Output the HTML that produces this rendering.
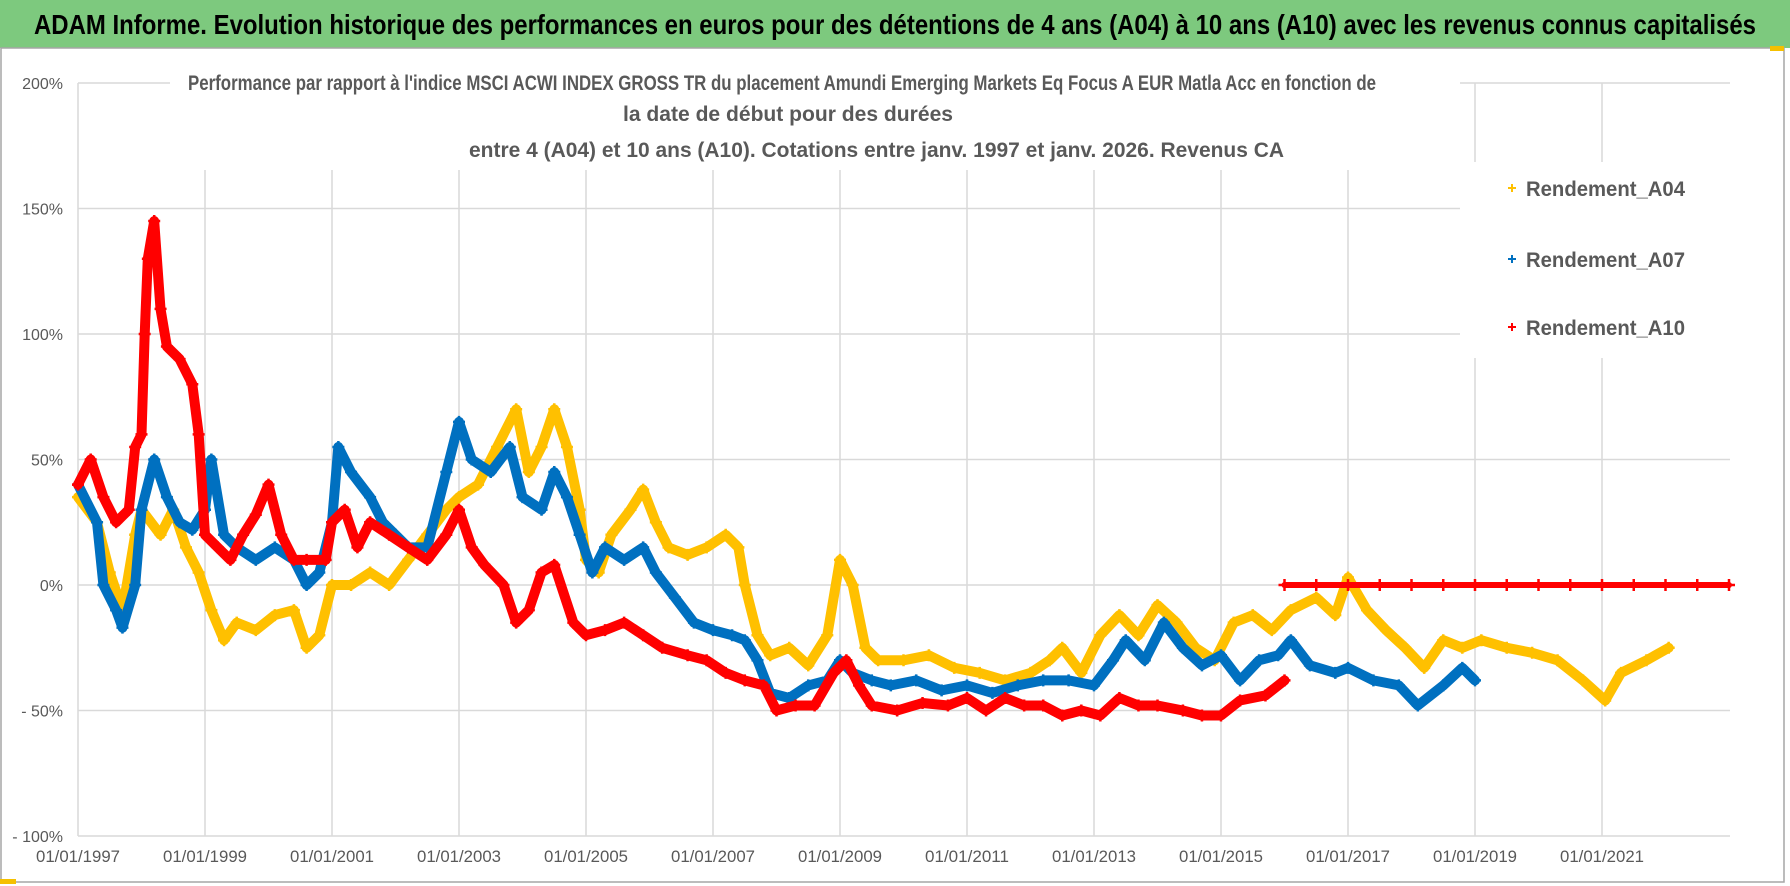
<!DOCTYPE html>
<html><head><meta charset="utf-8"><style>
html,body{margin:0;padding:0;background:#fff;width:1790px;height:886px;overflow:hidden}
svg{display:block;font-family:"Liberation Sans Narrow","Liberation Sans",sans-serif}
</style></head><body>
<svg id="chart" width="1790" height="886" viewBox="0 0 1790 886" xmlns="http://www.w3.org/2000/svg">
<rect x="0" y="0" width="1790" height="886" fill="#fff"/>
<rect x="0" y="0" width="1790" height="48" fill="#7dc97e"/>
<text x="895" y="34" text-anchor="middle" font-size="28" font-weight="bold" fill="#000" textLength="1722" lengthAdjust="spacingAndGlyphs">ADAM Informe. Evolution historique des performances en euros pour des détentions de 4 ans (A04) à 10 ans (A10) avec les revenus connus capitalisés</text>
<rect x="1" y="48" width="1783" height="834" fill="none" stroke="#a6a6a6" stroke-width="1.5"/>
<rect x="0" y="879" width="16" height="5" fill="#f5c000"/>
<rect x="1770" y="46" width="14" height="5" fill="#f5c000"/>
<g id="grid"></g>
<g id="series"></g>
<rect x="170" y="70" width="1290" height="100" fill="#fff"/>
<rect x="1460" y="162" width="270" height="196" fill="#fff"/>
<g font-size="21" font-weight="bold" fill="#595959" text-anchor="start">
<text x="188" y="90" textLength="1188" lengthAdjust="spacingAndGlyphs">Performance par rapport à l'indice MSCI ACWI INDEX GROSS TR  du placement Amundi Emerging Markets Eq Focus A EUR Matla Acc en fonction de</text>
<text x="623" y="121" textLength="330" lengthAdjust="spacingAndGlyphs">la date de début pour des durées</text>
<text x="469" y="157" textLength="815" lengthAdjust="spacingAndGlyphs">entre 4 (A04) et 10 ans (A10).  Cotations entre janv. 1997 et janv. 2026. Revenus CA</text>
</g>
<g id="axes" font-size="16" fill="#595959"></g>
<g id="legend" font-size="21" font-weight="bold" fill="#595959"></g>
</svg>
<script>
const yTicks = [200, 150, 100, 50, 0, -50, -100];
const yTickLabels = ["200%", "150%", "100%", "50%", "0%", "- 50%", "- 100%"];
const xTicks = [1997, 1999, 2001, 2003, 2005, 2007, 2009, 2011, 2013, 2015, 2017, 2019, 2021];
const xTickLabels = ["01/01/1997","01/01/1999","01/01/2001","01/01/2003","01/01/2005","01/01/2007","01/01/2009","01/01/2011","01/01/2013","01/01/2015","01/01/2017","01/01/2019","01/01/2021"];
const seriesNames = ["Rendement_A04", "Rendement_A07", "Rendement_A10"];
const a04Dates = [1997.0,1997.3,1997.5,1997.7,1997.9,1998.0,1998.3,1998.5,1998.7,1998.9,1999.1,1999.3,1999.5,1999.8,2000.1,2000.4,2000.6,2000.8,2001.0,2001.3,2001.6,2001.9,2002.2,2002.5,2002.8,2003.0,2003.3,2003.6,2003.9,2004.1,2004.3,2004.5,2004.7,2004.9,2005.0,2005.2,2005.4,2005.7,2005.9,2006.1,2006.3,2006.6,2006.9,2007.2,2007.4,2007.5,2007.7,2007.9,2008.2,2008.5,2008.8,2009.0,2009.2,2009.4,2009.6,2010.0,2010.4,2010.8,2011.2,2011.6,2012.0,2012.3,2012.5,2012.8,2013.1,2013.4,2013.7,2014.0,2014.3,2014.6,2014.9,2015.2,2015.5,2015.8,2016.1,2016.5,2016.8,2017.0,2017.3,2017.6,2017.9,2018.2,2018.5,2018.8,2019.1,2019.5,2019.9,2020.3,2020.7,2021.05,2021.3,2021.7,2022.05];
const a04Values = [35,25,5,-10,20,30,20,30,15,5,-10,-22,-15,-18,-12,-10,-25,-20,0,0,5,0,10,20,30,35,40,55,70,45,55,70,55,30,10,5,20,30,38,25,15,12,15,20,15,0,-20,-28,-25,-32,-20,10,0,-25,-30,-30,-28,-33,-35,-38,-35,-30,-25,-35,-20,-12,-20,-8,-15,-25,-30,-15,-12,-18,-10,-5,-12,3,-10,-18,-25,-33,-22,-25,-22,-25,-27,-30,-38,-46,-35,-30,-25];
const a07Dates = [1997.0,1997.3,1997.4,1997.6,1997.7,1997.9,1998.0,1998.2,1998.4,1998.6,1998.8,1999.0,1999.1,1999.3,1999.5,1999.8,2000.1,2000.4,2000.6,2000.8,2001.0,2001.1,2001.3,2001.6,2001.8,2002.0,2002.2,2002.5,2002.8,2003.0,2003.2,2003.5,2003.8,2004.0,2004.3,2004.5,2004.7,2004.9,2005.1,2005.3,2005.6,2005.9,2006.1,2006.4,2006.7,2007.0,2007.3,2007.5,2007.7,2007.9,2008.2,2008.5,2008.8,2009.0,2009.2,2009.5,2009.8,2010.2,2010.6,2011.0,2011.4,2011.8,2012.2,2012.6,2013.0,2013.3,2013.5,2013.8,2014.1,2014.4,2014.7,2015.0,2015.3,2015.6,2015.9,2016.1,2016.4,2016.8,2017.0,2017.4,2017.8,2018.1,2018.5,2018.8,2019.0];
const a07Values = [40,25,0,-10,-17,0,30,50,35,25,22,30,50,20,15,10,15,10,0,5,25,55,45,35,25,20,15,15,45,65,50,45,55,35,30,45,35,20,5,15,10,15,5,-5,-15,-18,-20,-22,-30,-43,-45,-40,-38,-30,-35,-38,-40,-38,-42,-40,-43,-40,-38,-38,-40,-30,-22,-30,-15,-25,-32,-28,-38,-30,-28,-22,-32,-35,-33,-38,-40,-48,-40,-33,-38];
const a10Dates = [1997.0,1997.2,1997.4,1997.6,1997.8,1997.9,1998.0,1998.05,1998.1,1998.2,1998.3,1998.4,1998.6,1998.8,1998.9,1999.0,1999.2,1999.4,1999.6,1999.8,2000.0,2000.2,2000.4,2000.6,2000.9,2001.0,2001.2,2001.4,2001.6,2001.9,2002.2,2002.5,2002.8,2003.0,2003.2,2003.4,2003.7,2003.9,2004.1,2004.3,2004.5,2004.8,2005.0,2005.3,2005.6,2005.9,2006.2,2006.6,2006.9,2007.2,2007.5,2007.8,2008.0,2008.3,2008.6,2008.9,2009.1,2009.3,2009.5,2009.9,2010.3,2010.7,2011.0,2011.3,2011.6,2011.9,2012.2,2012.5,2012.8,2013.1,2013.4,2013.7,2014.0,2014.4,2014.7,2015.0,2015.3,2015.7,2016.0];
const a10Values = [40,50,35,25,30,55,60,100,130,145,110,95,90,80,60,20,15,10,20,28,40,20,10,10,10,25,30,15,25,20,15,10,20,30,15,8,0,-15,-10,5,8,-15,-20,-18,-15,-20,-25,-28,-30,-35,-38,-40,-50,-48,-48,-35,-30,-40,-48,-50,-47,-48,-45,-50,-45,-48,-48,-52,-50,-52,-45,-48,-48,-50,-52,-52,-46,-44,-38];
const a10ZeroDates = [2016.0,2016.5,2017.0,2017.5,2018.0,2018.5,2019.0,2019.5,2020.0,2020.5,2021.0,2021.5,2022.0,2022.5,2023.0];
const a10ZeroValues = [0,0,0,0,0,0,0,0,0,0,0,0,0,0,0];

const NS = "http://www.w3.org/2000/svg";
const X0 = 78, PX_PER_YEAR = 63.5, Y0 = 585, PX_PER_PCT = 2.51, XMAX = 1730;
function xScale(d){ return X0 + (d - 1997) * PX_PER_YEAR; }
function yScale(v){ return Y0 - v * PX_PER_PCT; }
function mk(tag, attrs, parent){ const e = document.createElementNS(NS, tag); for (const k in attrs) e.setAttribute(k, attrs[k]); parent.appendChild(e); return e; }

const grid = document.getElementById('grid');
yTicks.forEach((t) => {
  const l = mk('line', {x1: X0, x2: XMAX, y1: yScale(t), y2: yScale(t), stroke: '#d9d9d9', 'stroke-width': 1.5}, grid);
  
  
});
xTicks.forEach((t) => {
  const l = mk('line', {x1: xScale(t), x2: xScale(t), y1: yScale(200), y2: yScale(-100), stroke: '#d9d9d9', 'stroke-width': 1.5}, grid);
  
  
});

const axes = document.getElementById('axes');
yTicks.forEach((t, i) => {
  const tx = mk('text', {x: 63, y: yScale(t) + 6, 'text-anchor': 'end'}, axes);
  tx.textContent = yTickLabels[i];
  
  
});
xTicks.forEach((t, i) => {
  const tx = mk('text', {x: xScale(t), y: 862, 'text-anchor': 'middle', 'font-size': 17, textLength: 84, lengthAdjust: 'spacingAndGlyphs'}, axes);
  tx.textContent = xTickLabels[i];
  
  
});

const seriesLayer = document.getElementById('series');
function drawSeries(dates, values, color, width, name){
  const g = mk('g', {}, seriesLayer);
  
  
  const pts = dates.map((d, i) => xScale(d).toFixed(1) + ',' + yScale(values[i]).toFixed(1)).join(' ');
  const pl = mk('polyline', {points: pts, fill: 'none', stroke: color, 'stroke-width': width, 'stroke-linejoin': 'round', 'stroke-linecap': 'round'}, g);
  
  
  dates.forEach((d, i) => {
    const cx = xScale(d), cy = yScale(values[i]);
    const p = mk('path', {d: `M${cx-6},${cy}h12M${cx},${cy-6}v12`, stroke: color, 'stroke-width': 2.5}, g);
    
    
  });
}
drawSeries(a04Dates, a04Values, '#ffc000', 10, 'series-a04');
drawSeries(a07Dates, a07Values, '#0070c0', 10, 'series-a07');
drawSeries(a10Dates, a10Values, '#ff0000', 10, 'series-a10');
drawSeries(a10ZeroDates, a10ZeroValues, '#ff0000', 6, 'series-a10-flat');

const legend = document.getElementById('legend');
const legendColors = ['#ffc000', '#0070c0', '#ff0000'];
const legendY = [188, 259, 327];
seriesNames.forEach((n, i) => {
  const g = mk('g', {}, legend);
  
  
  const m = mk('path', {d: `M${1508},${legendY[i]}h8M${1512},${legendY[i]-4}v8`, stroke: legendColors[i], 'stroke-width': 2}, g);
  
  
  const t = mk('text', {x: 1526, y: legendY[i] + 8, textLength: 159, lengthAdjust: 'spacingAndGlyphs'}, g);
  t.textContent = n;
  
  
});
</script>
</body></html>
